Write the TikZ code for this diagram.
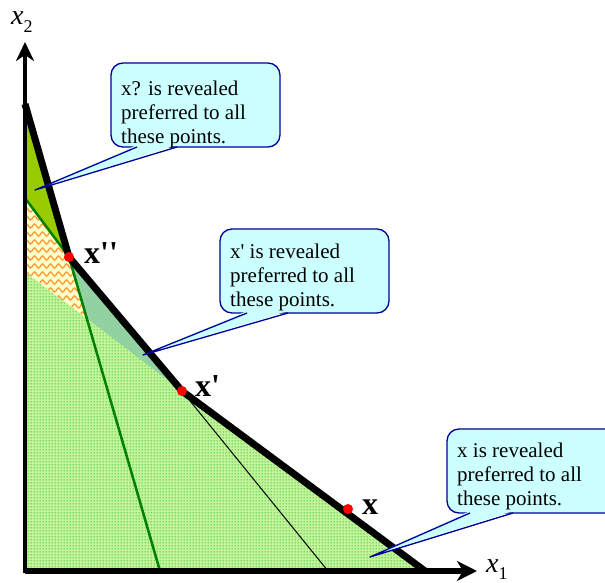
\documentclass[tikz,border=0pt]{standalone}
\usepackage{fontspec}
\setmainfont{Liberation Serif}
\usetikzlibrary{arrows.meta,patterns,decorations.pathmorphing}
\pgfdeclarepatternformonly{bigdots}{\pgfqpoint{0pt}{0pt}}{\pgfqpoint{3pt}{3pt}}{\pgfqpoint{3pt}{3pt}}{\pgfpathcircle{\pgfqpoint{1.5pt}{1.5pt}}{0.9pt}\pgfusepath{fill}}
\definecolor{limeC}{HTML}{99CC00}
\definecolor{tealC}{HTML}{92D2A2}
\definecolor{dotbg}{HTML}{C4F59A}
\definecolor{dotfg}{HTML}{33C033}
\definecolor{zigbg}{HTML}{FFFFCC}
\definecolor{zigfg}{HTML}{FF9933}
\definecolor{greenL}{HTML}{008000}
\definecolor{cyanC}{HTML}{CCFFFF}
\definecolor{blueC}{HTML}{000099}
\begin{document}
\begin{tikzpicture}[x=1pt,y=-1pt,
  callout/.style={fill=cyanC,draw=blueC,line width=1.3pt,rounded corners=12pt},
  pointer/.style={draw=blueC,line width=1.3pt,line join=round},
  ctext/.style={anchor=north west,inner sep=0pt,align=left,font=\fontsize{21}{24}\selectfont},
  ptlabel/.style={anchor=base west,inner sep=0pt,font=\fontsize{32}{32}\selectfont\bfseries},
  reddot/.style={circle,fill=red,inner sep=0pt,minimum size=10pt},
  axlabel/.style={anchor=base west,inner sep=0pt,font=\fontsize{28}{28}\selectfont\itshape},
  greenline/.style={draw=greenL,line width=2.5pt},
  zig/.style={draw=zigfg,line width=1.3pt,decorate,decoration={snake,segment length=8pt,amplitude=2pt}}]
\useasboundingbox (0,0) rectangle (605,583);
\fill[white] (0,0) rectangle (605,583);
% key points
\coordinate (A) at (25,104);
\coordinate (Xpp) at (69,257);
\coordinate (Xp) at (182,391);
\coordinate (X) at (348,509);
\coordinate (Bx0) at (25,272);
\coordinate (Bx1) at (425,571);
\coordinate (Bp0) at (25,198);
\coordinate (Bp1) at (328,571);
\coordinate (Bpp1) at (160,571);
\coordinate (O) at (25,571);
\coordinate (I) at (intersection of Xpp--Bpp1 and Bx0--Bx1);
% regions
\fill[dotbg] (Bx0) -- (O) -- (Bx1) -- cycle;
\fill[pattern=bigdots,pattern color=dotfg] (Bx0) -- (O) -- (Bx1) -- cycle;
\fill[limeC] (A) -- (Xpp) -- (Bp0) -- cycle;
\fill[tealC] (Xpp) -- (Xp) -- (I) -- cycle;
\fill[zigbg] (Bp0) -- (Xpp) -- (I) -- (Bx0) -- cycle;
\begin{scope}
  \clip (Bp0) -- (Xpp) -- (I) -- (Bx0) -- cycle;
  \foreach \yy in {194,202,...,330} \draw[zig] (16,\yy) -- (110,\yy);
\end{scope}
% budget lines
\draw[greenline] (Bp0) -- (Xpp) -- (Bpp1);
\draw[line width=1pt] (Xp) -- (Bp1);
\draw[line width=7pt] (A) -- (Xpp) -- (Xp) -- (Bx1);
% axes
\coordinate (Ytip) at (25,42);
\coordinate (Xtip) at (477,571);
\draw[line width=3.5pt,-{Stealth[length=19pt,width=18pt,inset=6pt]}] (25,573) -- (Ytip);
\draw[line width=6pt,-{Stealth[length=20pt,width=20pt,inset=6pt]}] (O) -- (Xtip);
\node[axlabel] (lx2) at (11,25) {x\raisebox{-8pt}{\fontsize{18}{18}\selectfont\upshape 2}};
\node[axlabel] (lx1) at (486,572) {x\raisebox{-7pt}{\fontsize{18}{18}\selectfont\upshape 1}};
% points
\node[reddot] (dXpp) at (Xpp) {};
\node[reddot] (dXp) at (Xp) {};
\node[reddot] (dX) at (X) {};
\node[ptlabel] (lXpp) at (84,263) {x\textquotesingle\textquotesingle};
\node[ptlabel] (lXp) at (195,396) {x\textquotesingle};
\node[ptlabel] (lX) at (362,514) {x};
% callout 1
\draw[callout] (111,63) rectangle (280,147);
\coordinate (t1) at (35,190);
\fill[cyanC] (137,145) -- (t1) -- (177,145) -- cycle;
\draw[pointer] (137,147) -- (t1) -- (177,147);
\node[ctext] (c1) at (121,81) {x? is revealed\\preferred to all\\these points.};
% callout 2
\draw[callout] (220,229) rectangle (389,313);
\coordinate (t2) at (143,355);
\fill[cyanC] (247,311) -- (t2) -- (288,311) -- cycle;
\draw[pointer] (247,313) -- (t2) -- (288,313);
\node[ctext] (c2) at (230,244) {x\textquotesingle{} is revealed\\preferred to all\\these points.};
% callout 3
\draw[callout] (447,429) rectangle (625,513);
\coordinate (t3) at (370,557);
\fill[cyanC] (470,511) -- (t3) -- (513,511) -- cycle;
\draw[pointer] (470,513) -- (t3) -- (513,513);
\node[ctext] (c3) at (457,443) {x is revealed\\preferred to all\\these points.};
\end{tikzpicture}
\end{document}
